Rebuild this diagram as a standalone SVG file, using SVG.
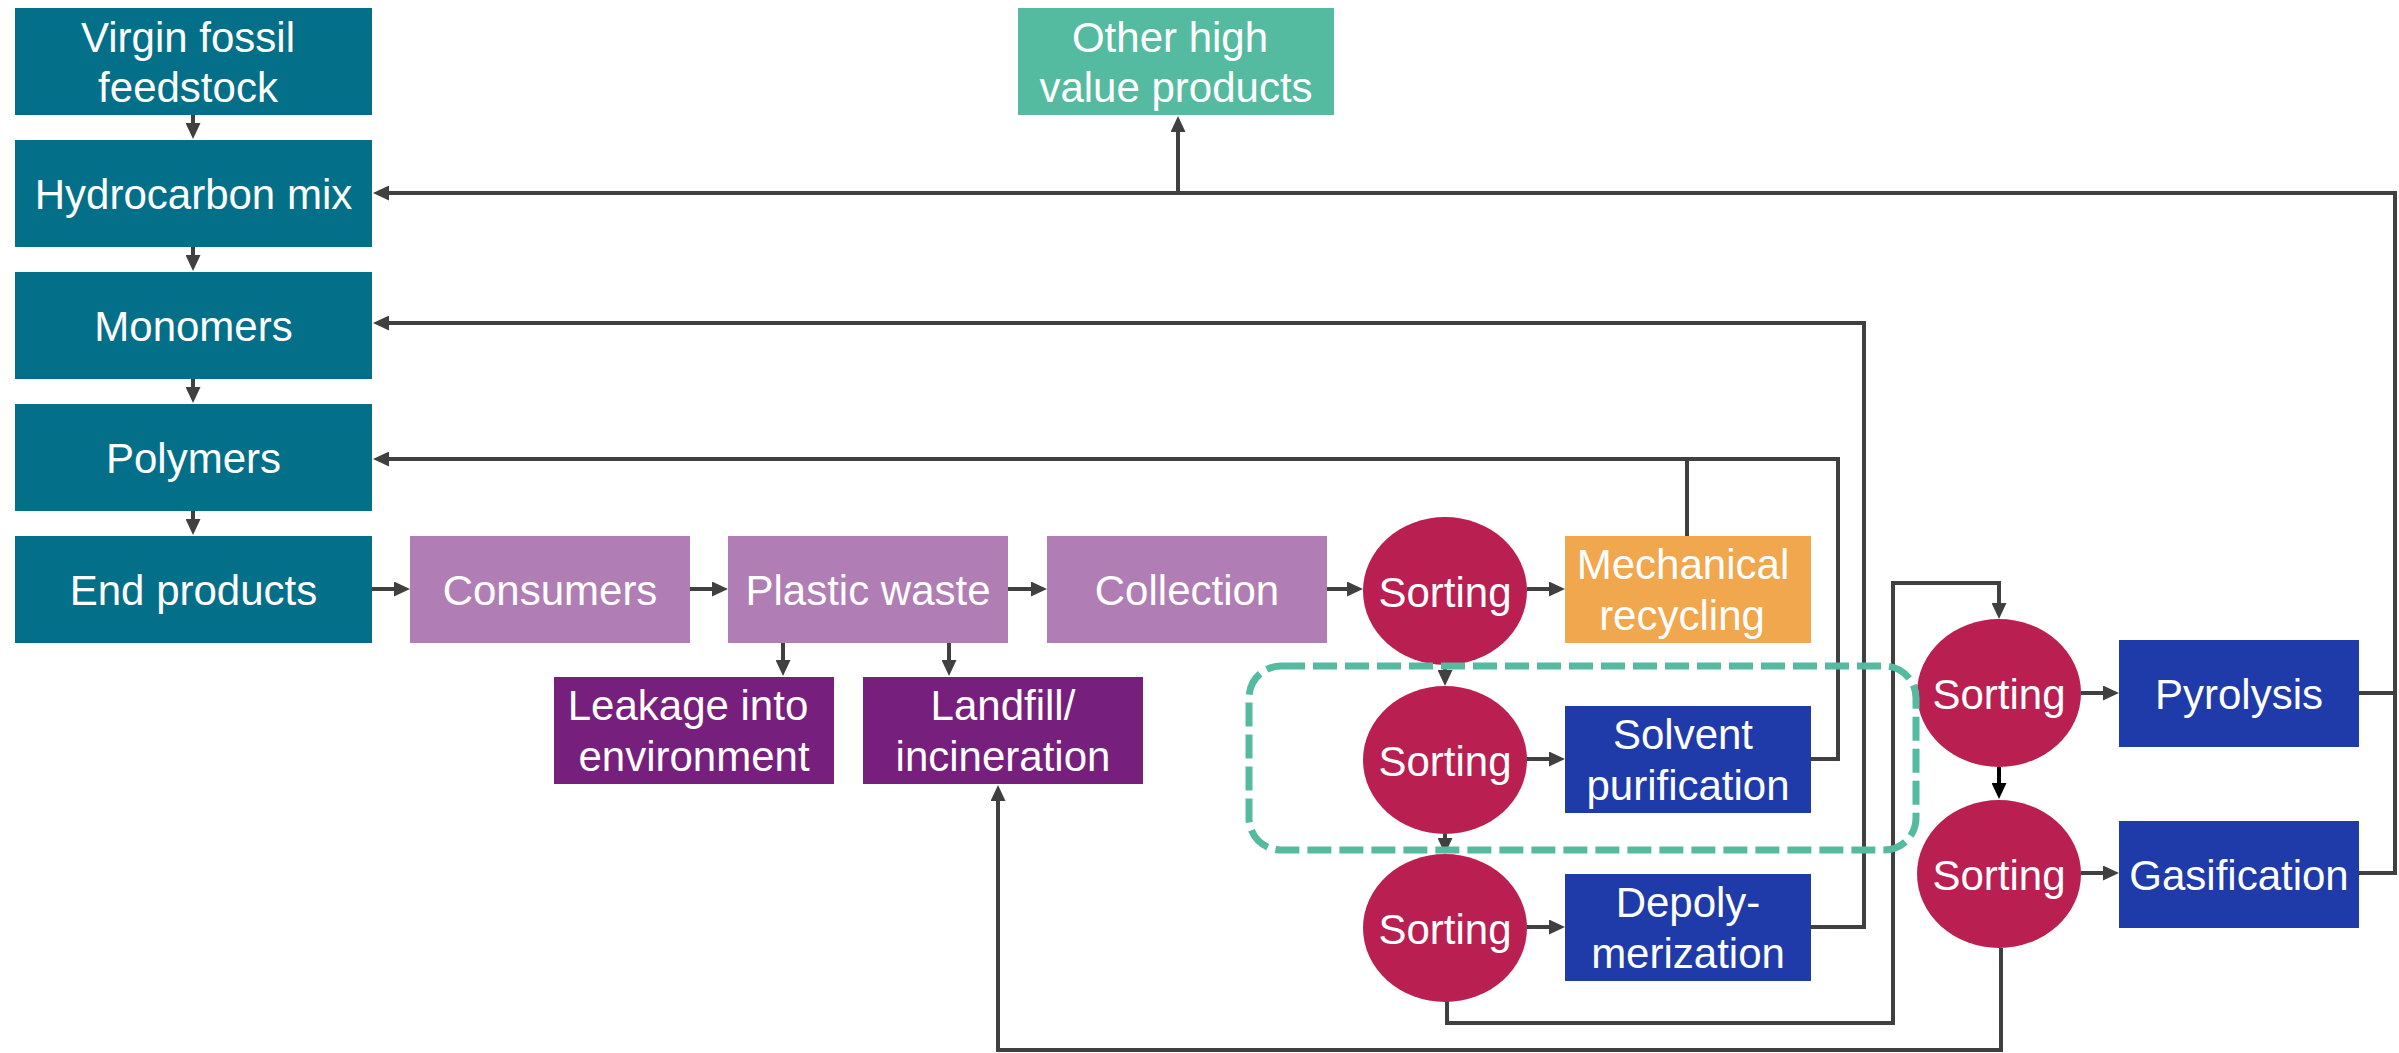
<svg xmlns="http://www.w3.org/2000/svg" width="2399" height="1053" viewBox="0 0 2399 1053">
<defs>
<style>
.t{font-family:"Liberation Sans",Arial,sans-serif;font-size:42px;fill:#fff;text-anchor:middle}
.teal{fill:#036F88}
.green{fill:#55BBA0}
.lp{fill:#B07EB4}
.dp{fill:#761F7D}
.sort{fill:#B91F51}
.orange{fill:#F0A74D}
.blue{fill:#1F3BAA}
.c{fill:none;stroke:#404040;stroke-width:4;stroke-linejoin:miter}
.ca{fill:none;stroke:#404040;stroke-width:4;marker-end:url(#ah)}
.cb{fill:none;stroke:#000;stroke-width:4;marker-end:url(#ahb)}
.dash{fill:none;stroke:#55BBA0;stroke-width:7;stroke-dasharray:24 8}
</style>
<marker id="ah" markerUnits="userSpaceOnUse" viewBox="0 0 16 15" refX="11" refY="7.5" markerWidth="16" markerHeight="15" orient="auto">
<path d="M0,0 L16,7.5 L0,15 z" fill="#404040"/>
</marker>
<marker id="ahb" markerUnits="userSpaceOnUse" viewBox="0 0 16 15" refX="11" refY="7.5" markerWidth="16" markerHeight="15" orient="auto">
<path d="M0,0 L16,7.5 L0,15 z" fill="#000"/>
</marker>
</defs>
<rect width="2399" height="1053" fill="#fff"/>

<g id="connectors">
<path class="ca" d="M193,115 V134"/>
<path class="ca" d="M193,247 V266"/>
<path class="ca" d="M193,379 V398"/>
<path class="ca" d="M193,511 V530"/>
<path class="ca" d="M372,589 H405"/>
<path class="ca" d="M690,589 H723"/>
<path class="ca" d="M1008,589 H1042"/>
<path class="ca" d="M1327,589 H1358"/>
<path class="ca" d="M1527,589 H1560"/>
<path class="ca" d="M783,643 V671"/>
<path class="ca" d="M949,643 V671"/>
<path class="ca" d="M1445,665 V681"/>
<path class="ca" d="M1527,759 H1560"/>
<path class="ca" d="M1445,834 V849"/>
<path class="ca" d="M1527,927 H1560"/>
<path class="ca" d="M1447,1001 V1023 H1893 V583 H1999 V614"/>
<path class="ca" d="M2081,693 H2114"/>
<path class="cb" d="M1999,767 V794"/>
<path class="ca" d="M2081,873 H2114"/>
<path class="ca" d="M2001,948 V1050 H998 V790"/>
<path class="c" d="M2359,693 H2395"/>
<path class="ca" d="M2359,873 H2395 V193 H378"/>
<path class="ca" d="M1178,193 V121"/>
<path class="ca" d="M1811,927 H1864 V323 H378"/>
<path class="ca" d="M1811,759 H1838 V459 H378"/>
<path class="c" d="M1687,536 V459"/>
</g>

<g id="n-virgin"><rect class="teal" x="15" y="8" width="357" height="107"/><text class="t" x="188" y="52">Virgin fossil</text><text class="t" x="188" y="102">feedstock</text></g>
<g id="n-hydrocarbon"><rect class="teal" x="15" y="140" width="357" height="107"/><text class="t" x="193.5" y="209">Hydrocarbon mix</text></g>
<g id="n-monomers"><rect class="teal" x="15" y="272" width="357" height="107"/><text class="t" x="193.5" y="341">Monomers</text></g>
<g id="n-polymers"><rect class="teal" x="15" y="404" width="357" height="107"/><text class="t" x="193.5" y="473">Polymers</text></g>
<g id="n-end"><rect class="teal" x="15" y="536" width="357" height="107"/><text class="t" x="193.5" y="605">End products</text></g>
<g id="n-other"><rect class="green" x="1018" y="8" width="316" height="107"/><text class="t" x="1170" y="52">Other high</text><text class="t" x="1176" y="102">value products</text></g>
<g id="n-consumers"><rect class="lp" x="410" y="536" width="280" height="107"/><text class="t" x="550" y="605">Consumers</text></g>
<g id="n-plastic"><rect class="lp" x="728" y="536" width="280" height="107"/><text class="t" x="868" y="605">Plastic waste</text></g>
<g id="n-collection"><rect class="lp" x="1047" y="536" width="280" height="107"/><text class="t" x="1187" y="605">Collection</text></g>
<g id="n-leakage"><rect class="dp" x="554" y="677" width="280" height="107"/><text class="t" x="688" y="720">Leakage into</text><text class="t" x="694" y="771">environment</text></g>
<g id="n-landfill"><rect class="dp" x="863" y="677" width="280" height="107"/><text class="t" x="1003" y="720">Landfill/</text><text class="t" x="1003" y="771">incineration</text></g>
<g id="n-sort1"><ellipse class="sort" cx="1445" cy="591" rx="82" ry="74"/><text class="t" x="1445" y="607">Sorting</text></g>
<g id="n-mech"><rect class="orange" x="1565" y="536" width="246" height="107"/><text class="t" x="1683" y="579">Mechanical</text><text class="t" x="1682" y="630">recycling</text></g>
<g id="n-sort2"><ellipse class="sort" cx="1445" cy="760" rx="82" ry="74"/><text class="t" x="1445" y="776">Sorting</text></g>
<g id="n-solvent"><rect class="blue" x="1565" y="706" width="246" height="107"/><text class="t" x="1683" y="749">Solvent</text><text class="t" x="1688" y="800">purification</text></g>
<g id="n-sort3"><ellipse class="sort" cx="1445" cy="928" rx="82" ry="74"/><text class="t" x="1445" y="944">Sorting</text></g>
<g id="n-depoly"><rect class="blue" x="1565" y="874" width="246" height="107"/><text class="t" x="1688" y="917">Depoly-</text><text class="t" x="1688" y="968">merization</text></g>
<g id="n-sort4"><ellipse class="sort" cx="1999" cy="693" rx="82" ry="74"/><text class="t" x="1999" y="709">Sorting</text></g>
<g id="n-pyrolysis"><rect class="blue" x="2119" y="640" width="240" height="107"/><text class="t" x="2239" y="709">Pyrolysis</text></g>
<g id="n-sort5"><ellipse class="sort" cx="1999" cy="874" rx="82" ry="74"/><text class="t" x="1999" y="890">Sorting</text></g>
<g id="n-gasification"><rect class="blue" x="2119" y="821" width="240" height="107"/><text class="t" x="2239" y="890">Gasification</text></g>

<g id="chemical-recycling-group"><rect class="dash" x="1249" y="666" width="667" height="184" rx="32" ry="32"/></g>
</svg>
